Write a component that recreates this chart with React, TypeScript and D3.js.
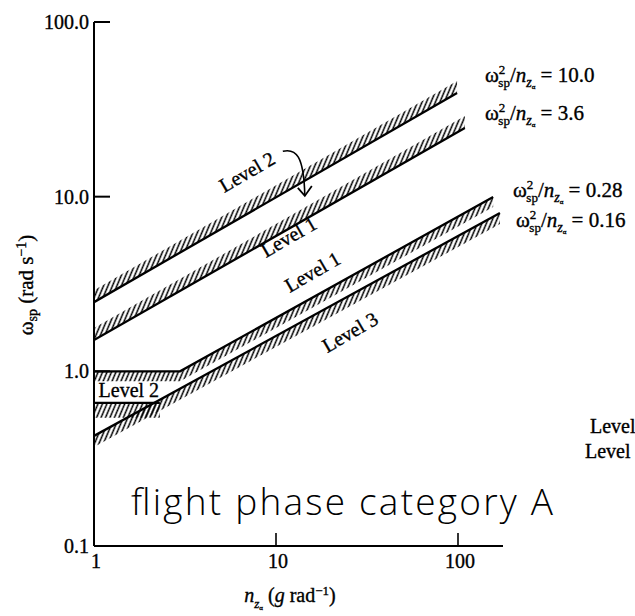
import React from "react";
import * as d3 from "d3";

const W = 635;
const H = 616;

// axis ticks
const nTicks = [1, 10, 100];
const nTickLabels = ["1", "10", "100"];
const wTicks = [0.1, 1, 10, 100];
const wTickLabels = ["0.1", "1.0", "10.0", "100.0"];

// boundary lines, points are [n_z, omega_sp]
const bound10 = [[1, 2.49], [98.8, 39.2]];
const bound36 = [[1, 1.51], [109, 24.7]];
const boundL1Low = [[1, 1.0], [2.97, 1.0], [156, 9.95]];
const boundL2Floor = [[1, 0.66], [2.3, 0.66]];
const bound016 = [[1, 0.427], [170, 8.06]];

// labels for the boundaries
const ratioValues = ["10.0", "3.6", "0.28", "0.16"];
const levelNames = ["Level 2", "Level 1", "Level 1", "Level 3"];
const levelAnchors = [[5.2, 10.5], [8.81, 4.46], [11.9, 2.81], [19.1, 1.27]];
const level2FlatAnchor = [1.06, 0.713];
const arrowFrom = [10.9, 18.2];
const arrowTo = [14.4, 10.1];

const FONT = "'Liberation Serif', 'Times New Roman', serif";
const TS = { stroke: "#000", strokeWidth: 0.35 };

function RatioLabel({ x, y, value }: { x: number; y: number; value: string }) {
  return (
    <text x={x} y={y} fontSize={21} fontFamily={FONT} {...TS}>
      ω
      <tspan fontSize={13} dy={-8}>2</tspan>
      <tspan fontSize={13} dx={-7} dy={13}>sp</tspan>
      <tspan dy={-5}>/</tspan>
      <tspan fontStyle="italic">n</tspan>
      <tspan fontStyle="italic" fontSize={14} dy={5}>z</tspan>
      <tspan fontSize={7} dy={2}>α</tspan>
      <tspan dy={-7}>{" = " + value}</tspan>
    </text>
  );
}

export default function App() {
  const x = d3.scaleLog().domain([1, 100]).range([94, 458]);
  const y = d3.scaleLog().domain([0.1, 100]).range([546, 22]);

  const px = (pts: number[][]) => pts.map((p) => [x(p[0]), y(p[1])] as [number, number]);
  const line = d3.line();

  const band = (pts: number[][], dir: number, t: number) => {
    const a = px(pts);
    const b = a.map(([u, v]) => [u, v + dir * t] as [number, number]).reverse();
    return line([...a, ...b]) + "Z";
  };

  const bands = [
    { pts: bound10, dir: -1, t: 12 },
    { pts: bound36, dir: -1, t: 12 },
    { pts: boundL1Low, dir: 1, t: 10 },
    { pts: boundL2Floor, dir: 1, t: 15 },
    { pts: bound016, dir: 1, t: 11 },
  ];
  const lines = [bound10, bound36, boundL1Low, boundL2Floor, bound016];

  const ratioPos = [
    [485, 82],
    [485, 120],
    [513, 197],
    [516, 227],
  ];

  const a0 = [x(arrowFrom[0]), y(arrowFrom[1])];
  const a1 = [x(arrowTo[0]), y(arrowTo[1])];

  return (
    <svg width={W} height={H} style={{ position: "absolute", left: 0, top: 0, background: "#fff" }}>
      <defs>
        <pattern id="hatch" patternUnits="userSpaceOnUse" width={4.1} height={10} patternTransform="rotate(23)">
          <line x1={2} y1={-1} x2={2} y2={11} stroke="#000" strokeWidth={1.5} />
        </pattern>
        <clipPath id="plot">
          <rect x={94} y={0} width={W - 94} height={546} />
        </clipPath>
      </defs>
      <rect x={0} y={0} width={W} height={H} fill="#fff" />

      <g clipPath="url(#plot)">
        {bands.map((b, i) => (
          <path key={i} d={band(b.pts, b.dir, b.t)} fill="url(#hatch)" />
        ))}
        {lines.map((l, i) => (
          <path key={i} d={line(px(l)) || ""} fill="none" stroke="#000" strokeWidth={2.3} />
        ))}
      </g>

      {/* axes */}
      <line x1={x(1)} y1={y(100)} x2={x(1)} y2={y(0.1)} stroke="#000" strokeWidth={2} />
      <line x1={x(1)} y1={y(0.1)} x2={503} y2={y(0.1)} stroke="#000" strokeWidth={2} />
      {wTicks.map((t, i) => (
        <g key={i}>
          <line x1={x(1)} y1={y(t)} x2={x(1) + 16} y2={y(t)} stroke="#000" strokeWidth={2} />
          <text x={x(1) - 5} y={y(t)} dy="0.35em" textAnchor="end" fontSize={20} fontFamily={FONT} {...TS}>
            {wTickLabels[i]}
          </text>
        </g>
      ))}
      {nTicks.map((t, i) => (
        <g key={i}>
          <line x1={x(t)} y1={y(0.1)} x2={x(t)} y2={y(0.1) - 13} stroke="#000" strokeWidth={1.6} />
          <text x={x(t) + 2} y={568} textAnchor="middle" fontSize={20} fontFamily={FONT} {...TS}>
            {nTickLabels[i]}
          </text>
        </g>
      ))}

      {/* axis titles */}
      <text x={290} y={602} textAnchor="middle" fontSize={20} fontFamily={FONT} {...TS}>
        <tspan fontStyle="italic">n</tspan>
        <tspan fontStyle="italic" fontSize={13} dy={6}>z</tspan>
        <tspan fontSize={7} dy={2}>α</tspan>
        <tspan dy={-8}>{" ("}</tspan>
        <tspan fontStyle="italic">g</tspan>
        <tspan>{" rad"}</tspan>
        <tspan fontSize={13} dy={-7}>−1</tspan>
        <tspan dy={7}>)</tspan>
      </text>
      <text transform="translate(33,285) rotate(-90)" textAnchor="middle" fontSize={21} fontFamily={FONT} {...TS}>
        ω
        <tspan fontSize={14} dy={4}>sp</tspan>
        <tspan dy={-4}>{" (rad s"}</tspan>
        <tspan fontSize={14} dy={-7}>−1</tspan>
        <tspan dy={7}>)</tspan>
      </text>

      {/* ratio labels */}
      {ratioValues.map((v, i) => (
        <RatioLabel key={i} x={ratioPos[i][0]} y={ratioPos[i][1]} value={v} />
      ))}

      {/* level labels */}
      {levelNames.map((name, i) => (
        <text
          key={i}
          transform={`translate(${x(levelAnchors[i][0])},${y(levelAnchors[i][1])}) rotate(-30)`}
          fontSize={20}
          fontFamily={FONT}
          {...TS}
        >
          {name}
        </text>
      ))}
      <text x={x(level2FlatAnchor[0])} y={y(level2FlatAnchor[1])} fontSize={20} fontFamily={FONT} {...TS}>
        Level 2
      </text>

      {/* arrow */}
      <path
        d={`M${a0[0]},${a0[1]} C${a0[0] + 13},${a0[1] - 3} ${a1[0] - 1},${a0[1] + 4} ${a1[0]},${a1[1]}`}
        fill="none"
        stroke="#000"
        strokeWidth={1.6}
      />
      <path
        d={`M${a1[0] - 7},${a1[1] - 8} L${a1[0]},${a1[1]} L${a1[0] + 7},${a1[1] - 10}`}
        fill="none"
        stroke="#000"
        strokeWidth={1.8}
      />

      {/* stray labels on the right */}
      <text x={590} y={433} fontSize={20} fontFamily={FONT} {...TS}>Level</text>
      <text x={585} y={458} fontSize={20} fontFamily={FONT} {...TS}>Level</text>

      {/* handwritten note */}
      <text
        x={131}
        y={515}
        fontSize={37}
        fontWeight={300}
        fontFamily="'Open Sans', 'DejaVu Sans', sans-serif"
        textLength={422}
        lengthAdjust="spacing"
      >
        flight phase category A
      </text>
    </svg>
  );
}
